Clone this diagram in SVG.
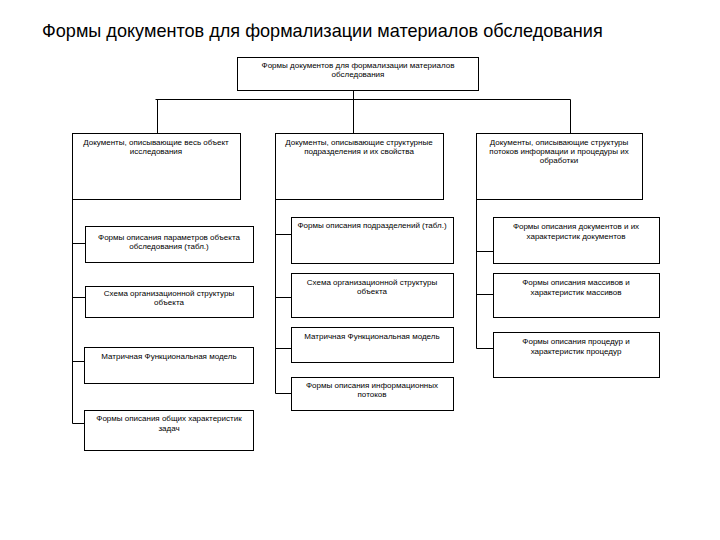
<svg xmlns="http://www.w3.org/2000/svg" width="720" height="540" viewBox="0 0 720 540">
<style>
.bx{fill:#fff;stroke:#000;stroke-width:1}
.t{font-family:"Liberation Sans",Arial,sans-serif;font-size:8px;fill:#000;text-anchor:middle}
.ttl{font-family:"Liberation Sans",Arial,sans-serif;font-size:18.1px;fill:#000}
.c{fill:none;stroke:#000;stroke-width:1}
</style>
<rect width="720" height="540" fill="#fff"/>
<text class="ttl" x="42" y="37">Формы документов для формализации материалов обследования</text>
<g id="connectors">
<path class="c" d="M353.5 90V99.5M155.5 99.5H570.5M157.5 99.5V133M353.5 99.5V133M570.5 99.5V133"/>
<path class="c" d="M72.5 199V423.5M72.5 243.5H85M72.5 297.5H85M72.5 361.5H84M72.5 423.5H84"/>
<path class="c" d="M275.5 199V393.5M275.5 234.5H291M275.5 297.5H291M275.5 348.5H291M275.5 393.5H291"/>
<path class="c" d="M476.5 199V348.5M476.5 251.5H493M476.5 294.5H493M476.5 348.5H493"/>
</g>
<g id="root"><rect class="bx" x="237.5" y="57.5" width="241" height="33"/>
<text class="t" x="358" y="68">Формы документов для формализации материалов</text>
<text class="t" x="358" y="77">обследования</text></g>
<g id="n1"><rect class="bx" x="72.5" y="133.5" width="168" height="66"/>
<text class="t" x="156" y="145">Документы, описывающие весь объект</text>
<text class="t" x="156" y="154">исследования</text></g>
<g id="n2"><rect class="bx" x="275.5" y="133.5" width="168" height="66"/>
<text class="t" x="359" y="145">Документы, описывающие структурные</text>
<text class="t" x="359" y="154">подразделения и их свойства</text></g>
<g id="n3"><rect class="bx" x="476.5" y="133.5" width="166" height="66"/>
<text class="t" x="559" y="145">Документы, описывающие структуры</text>
<text class="t" x="559" y="154">потоков информации и процедуры их</text>
<text class="t" x="559" y="163">обработки</text></g>
<g id="n1a"><rect class="bx" x="85.5" y="226.5" width="168" height="36"/>
<text class="t" x="169" y="240">Формы описания параметров объекта</text>
<text class="t" x="169" y="249">обследования (табл.)</text></g>
<g id="n1b"><rect class="bx" x="85.5" y="286.5" width="168" height="31"/>
<text class="t" x="169" y="296">Схема организационной структуры</text>
<text class="t" x="169" y="305">объекта</text></g>
<g id="n1c"><rect class="bx" x="84.5" y="347.5" width="169" height="36"/>
<text class="t" x="169" y="359">Матричная Функциональная модель</text></g>
<g id="n1d"><rect class="bx" x="84.5" y="410.5" width="169" height="40"/>
<text class="t" x="169" y="421">Формы описания общих характеристик</text>
<text class="t" x="169" y="431">задач</text></g>
<g id="n2a"><rect class="bx" x="291.5" y="217.5" width="162" height="46"/>
<text class="t" x="372" y="228">Формы описания подразделений (табл.)</text></g>
<g id="n2b"><rect class="bx" x="291.5" y="273.5" width="162" height="44"/>
<text class="t" x="372" y="285">Схема организационной структуры</text>
<text class="t" x="372" y="294">объекта</text></g>
<g id="n2c"><rect class="bx" x="291.5" y="327.5" width="162" height="35"/>
<text class="t" x="372" y="339">Матричная Функциональная модель</text></g>
<g id="n2d"><rect class="bx" x="291.5" y="377.5" width="162" height="33"/>
<text class="t" x="372" y="388">Формы описания информационных</text>
<text class="t" x="372" y="397">потоков</text></g>
<g id="n3a"><rect class="bx" x="493.5" y="217.5" width="166" height="46"/>
<text class="t" x="576" y="229">Формы описания документов и их</text>
<text class="t" x="576" y="239">характеристик документов</text></g>
<g id="n3b"><rect class="bx" x="493.5" y="273.5" width="166" height="44"/>
<text class="t" x="576" y="285">Формы описания массивов и</text>
<text class="t" x="576" y="295">характеристик массивов</text></g>
<g id="n3c"><rect class="bx" x="493.5" y="332.5" width="166" height="45"/>
<text class="t" x="576" y="344">Формы описания процедур и</text>
<text class="t" x="576" y="354">характеристик процедур</text></g>
</svg>
